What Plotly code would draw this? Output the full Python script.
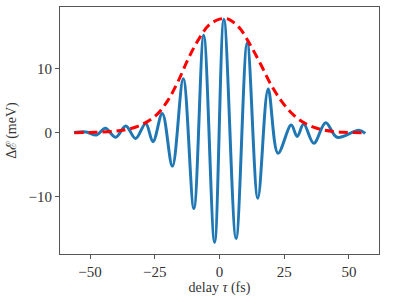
import plotly.graph_objects as go

# Blue oscillating signal: extrema (delay in fs, ΔE in meV)
delay = [-56.2, -51.5, -47.5, -44.1, -40.1, -36.2, -32.4, -28.5, -25.7, -22.1,
         -18.2, -14.0, -9.9, -6.1, -1.9, 1.7, 6.4, 10.7, 14.8, 18.8,
         22.6, 27.7, 30.0, 32.5, 36.4, 41.0, 45.4, 53.8, 56.3]
delta_e = [0.05, 0.12, -0.35, 0.7, -0.7, 1.05, -0.9, 1.45, -1.4, 3.0,
           -5.2, 8.4, -11.8, 15.2, -17.1, 17.7, -16.5, 14.0, -10.2, 6.8,
           -3.2, 1.2, -0.6, 1.35, -1.65, 1.55, -0.7, 0.4, -0.1]

# Red dashed envelope
env_delay = [-56, -48, -40, -36, -32, -28, -24, -20, -16, -12, -8, -4, 0, 2, 4,
             8, 12, 16, 20, 24, 28, 32, 36, 40, 44, 48, 52, 56]
env_value = [0.0, 0.07, 0.26, 0.5, 0.93, 1.7, 2.9, 5.0, 8.0, 11.6, 14.6, 16.8, 17.7, 17.8, 17.6,
             16.2, 13.6, 10.6, 7.4, 4.9, 3.0, 1.7, 0.9, 0.45, 0.2, 0.08, 0.03, 0.0]

x_ticks = [-50, -25, 0, 25, 50]
y_ticks = [-10, 0, 10]

fig = go.Figure()
fig.add_trace(go.Scatter(x=delay, y=delta_e, mode="lines",
                         line=dict(color="#1f77b4", width=3, shape="spline", smoothing=1.0)))
fig.add_trace(go.Scatter(x=env_delay, y=env_value, mode="lines",
                         line=dict(color="#ff0000", width=3, dash="9px,5px", shape="spline")))

font = dict(family="Liberation Serif, DejaVu Serif, serif", size=15, color="#333333")
title_font = dict(family="Liberation Serif, DejaVu Serif, serif", size=14, color="#333333")
axis_common = dict(showgrid=False, zeroline=False, showline=True, linecolor="#555555", linewidth=1.2,
                   mirror=True, ticks="outside", ticklen=4, tickcolor="#555555", tickwidth=1,
                   tickfont=font, automargin=False)
fig.update_xaxes(range=[-61.6, 61.6], tickvals=x_ticks,
                 title=dict(text="delay <i>τ</i> (fs)", font=title_font, standoff=2), **axis_common)
fig.update_yaxes(range=[-18.9, 19.6], tickvals=y_ticks,
                 title=dict(text="Δℰ\u2009(meV)", font=title_font, standoff=8), **axis_common)
fig.update_layout(width=399, height=299, margin=dict(l=60, r=20, t=7, b=45),
                  plot_bgcolor="white", paper_bgcolor="white", showlegend=False)
fig.write_html("out.html", config={"displayModeBar": False},
               post_script="document.body.style.margin='0';document.body.style.padding='0';")
